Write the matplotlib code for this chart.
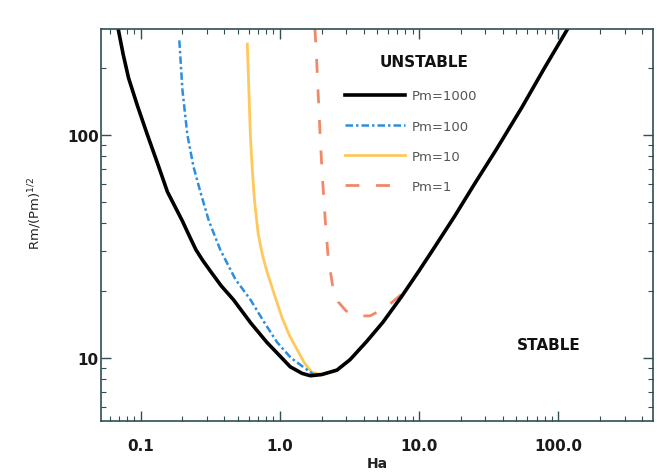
import numpy as np
import matplotlib
matplotlib.use('Agg')
import matplotlib.pyplot as plt
from matplotlib.ticker import FixedLocator, FixedFormatter, NullFormatter

# curves: Ha vs Rm/Pm^(1/2)
ha_1000 = [0.069, 0.075, 0.082, 0.095, 0.112, 0.135, 0.156, 0.2, 0.225, 0.25, 0.28, 0.32, 0.38,
           0.465, 0.62, 0.81, 1.0, 1.19, 1.45, 1.66, 2.0, 2.58, 3.2, 4.2, 5.5, 7.5, 10, 12.6,
           18, 25, 36, 55, 80, 116]
rm_1000 = [300, 230, 180, 135, 100, 72, 55.5, 41, 35, 30.5, 27.3, 24.3, 21,
           18.2, 14.3, 11.7, 10.2, 9.1, 8.5, 8.3, 8.4, 8.8, 9.8, 11.8, 14.4, 18.8, 24.5, 30.5,
           43, 60, 86, 133, 200, 296]

ha_100 = [0.19, 0.2, 0.217, 0.24, 0.269, 0.31, 0.374, 0.48, 0.616, 0.78, 0.96, 1.2, 1.47, 1.75, 2.1]
rm_100 = [265, 159, 100, 72, 55.5, 41, 30.5, 22.5, 18.2, 14.3, 11.7, 10.0, 9.1, 8.4, 8.4]

ha_10 = [0.585, 0.6, 0.615, 0.635, 0.66, 0.7, 0.75, 0.81, 0.92, 1.04, 1.18, 1.33, 1.5, 1.7, 2.0, 2.5]
rm_10 = [255, 160, 100, 70, 50, 36, 29, 24.3, 19.0, 15.1, 12.5, 10.9, 9.5, 8.6, 8.4, 8.7]

ha_1 = [1.79, 1.84, 1.89, 1.95, 2.02, 2.12, 2.23, 2.4, 2.63, 3.0, 3.6, 4.45, 5.8, 7.9, 10.5, 13]
rm_1 = [300, 220, 151, 100, 66, 42, 28, 21, 17.8, 16.2, 15.4, 15.4, 16.8, 19.8, 25.5, 31.5]

xticks = [0.1, 1.0, 10.0, 100.0]
xticklabels = ['0.1', '1.0', '10.0', '100.0']
yticks = [10, 100]
yticklabels = ['10', '100']

fig = plt.figure(figsize=(6.57, 4.77), dpi=100)
ax = fig.add_axes([0.1537, 0.1153, 0.8402, 0.8217])

ax.plot(ha_1, rm_1, color='#f0896a', lw=2.0, ls=(0, (5, 6)), label='Pm=1')
ax.plot(ha_10, rm_10, color='#ffc85a', lw=2.0, label='Pm=10')
ax.plot(ha_100, rm_100, color='#2c8ede', lw=1.8, ls=(0, (3, 1.2, 1, 1.2)), label='Pm=100')
ax.plot(ha_1000, rm_1000, color='black', lw=2.6, label='Pm=1000')

ax.set_xscale('log')
ax.set_yscale('log')
ax.set_xlim(0.052, 480)
ax.set_ylim(5.2, 298)

ax.xaxis.set_major_locator(FixedLocator(xticks))
ax.xaxis.set_major_formatter(FixedFormatter(xticklabels))
ax.xaxis.set_minor_formatter(NullFormatter())
ax.yaxis.set_major_locator(FixedLocator(yticks))
ax.yaxis.set_major_formatter(FixedFormatter(yticklabels))
ax.yaxis.set_minor_formatter(NullFormatter())

ax.tick_params(which='both', direction='in', top=True, right=True, color='#2f4f55')
ax.tick_params(which='major', length=7, width=1, labelsize=11, labelcolor='#1a1a1a')
ax.tick_params(axis='x', which='major', pad=12)
ax.tick_params(axis='y', which='major', pad=1.5)
ax.tick_params(which='minor', length=3.5, width=0.8)
for t in ax.get_xticklabels() + ax.get_yticklabels():
    t.set_fontweight('bold')
for s in ax.spines.values():
    s.set_color('#2f4f55')
    s.set_linewidth(1.2)

ax.set_xlabel('Ha', fontsize=10, fontweight='bold', color='#222222')
ax.xaxis.set_label_coords(0.5, -0.09)
ax.set_ylabel('Rm/(Pm)$^{1/2}$', fontsize=9.5, color='#222222')
ax.yaxis.set_label_coords(-0.103, 0.533)

h, l = ax.get_legend_handles_labels()
leg = ax.legend(h[::-1], l[::-1], loc='upper left', bbox_to_anchor=(0.442, 0.846),
                frameon=False, fontsize=9.5, handlelength=4.55, handletextpad=0.5,
                labelspacing=1.3, borderpad=0, borderaxespad=0)
for t in leg.get_texts():
    t.set_color('#555555')

ax.text(0.585, 0.916, 'UNSTABLE', transform=ax.transAxes, fontsize=11,
        fontweight='bold', ha='center', va='center', color='#111111')
ax.text(0.812, 0.196, 'STABLE', transform=ax.transAxes, fontsize=11,
        fontweight='bold', ha='center', va='center', color='#111111')

fig.savefig('out.png', dpi=100)
